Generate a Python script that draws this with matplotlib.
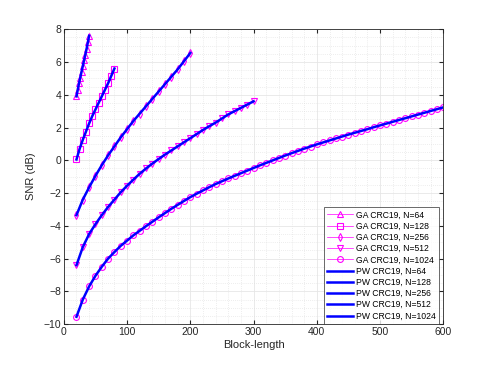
import numpy as np
import matplotlib
matplotlib.use("Agg")
import matplotlib.pyplot as plt
from matplotlib.ticker import MultipleLocator

# block lengths (K) and SNR values, one list per N
k_64 = [20, 22, 24, 26, 28, 30, 32, 34, 36, 38, 40]
snr_64 = [3.9, 4.3, 4.7, 5.05, 5.4, 5.75, 6.1, 6.45, 6.8, 7.2, 7.6]

k_128 = [20, 25, 30, 35, 40, 45, 50, 55, 60, 65, 70, 75, 80]
snr_128 = [0.05, 0.7, 1.25, 1.75, 2.25, 2.7, 3.1, 3.5, 3.9, 4.3, 4.7, 5.15, 5.6]

k_256 = [20, 30, 40, 50, 60, 70, 80, 90, 100, 110, 120, 130, 140, 150, 160,
         170, 180, 190, 200]
snr_256 = [-3.35, -2.4, -1.65, -0.95, -0.3, 0.3, 0.85, 1.4, 1.9, 2.4, 2.85,
           3.3, 3.75, 4.2, 4.65, 5.1, 5.55, 6.05, 6.55]

k_512 = [20, 30, 40, 50, 60, 70, 80, 90, 100, 110, 120, 130, 140, 150, 160,
         170, 180, 190, 200, 210, 220, 230, 240, 250, 260, 270, 280, 290, 300]
snr_512 = [-6.4, -5.3, -4.5, -3.9, -3.35, -2.85, -2.4, -1.95, -1.55, -1.18,
           -0.82, -0.5, -0.2, 0.08, 0.35, 0.6, 0.85, 1.1, 1.35, 1.6, 1.85,
           2.08, 2.3, 2.55, 2.8, 3.0, 3.2, 3.4, 3.6]

k_1024 = list(range(20, 601, 10))
snr_1024 = [-9.55, -8.5, -7.7, -7.05, -6.5, -6.0, -5.6, -5.22, -4.9, -4.58,
            -4.3, -4.02, -3.75, -3.48, -3.22, -2.96, -2.72, -2.48, -2.25,
            -2.04, -1.84, -1.64, -1.45, -1.28, -1.11, -0.95, -0.79, -0.63,
            -0.47, -0.31, -0.16, -0.01, 0.14, 0.29, 0.43, 0.57, 0.71, 0.84,
            0.97, 1.09, 1.21, 1.33, 1.45, 1.57, 1.68, 1.79, 1.9, 2.02, 2.13,
            2.24, 2.35, 2.46, 2.57, 2.68, 2.79, 2.9, 3.01, 3.12, 3.23]

code_lengths = [64, 128, 256, 512, 1024]
ks = [k_64, k_128, k_256, k_512, k_1024]
snrs = [snr_64, snr_128, snr_256, snr_512, snr_1024]
markers = ['^', 's', 'd', 'v', 'o']

plt.rcParams['font.family'] = ['Liberation Sans', 'DejaVu Sans']

fig = plt.figure(figsize=(4.91, 3.65), dpi=100)
ax = fig.add_axes([0.13, 0.112, 0.773, 0.808])

for n, k, s, m in zip(code_lengths, ks, snrs, markers):
    ax.plot(k, s, color='#ff00ff', lw=0.5, marker=m, ms=4.2, mfc='none',
            mec='#ff00ff', mew=0.8, label='GA CRC19, N=%d' % n)
for n, k, s in zip(code_lengths, ks, snrs):
    ax.plot(k, s, color='#0000ff', lw=1.8, label='PW CRC19, N=%d' % n)

ax.set_xlim(0, 600)
ax.set_ylim(-10, 8)
ax.xaxis.set_major_locator(MultipleLocator(100))
ax.yaxis.set_major_locator(MultipleLocator(2))
ax.xaxis.set_minor_locator(MultipleLocator(20))
ax.yaxis.set_minor_locator(MultipleLocator(0.5))
ax.grid(True, which='major', color='#e6e6e6', lw=0.6, ls='-')
ax.grid(True, which='minor', color='#dcdcdc', lw=0.5, ls=(0, (1, 2)))
ax.set_axisbelow(True)
ax.tick_params(which='both', direction='in', top=True, right=True,
               labelsize=7.5, colors='#262626', length=3, pad=2)
ax.tick_params(which='minor', length=0)
for sp in ax.spines.values():
    sp.set_color('#262626')
    sp.set_linewidth(0.6)

ax.set_xlabel('Block-length', fontsize=8, color='#262626', labelpad=2)
ax.set_ylabel('SNR (dB)', fontsize=8, color='#262626', labelpad=5)

leg = ax.legend(loc='lower right', bbox_to_anchor=(0.988, 0.002), fontsize=6.2,
                frameon=True, fancybox=False, edgecolor='#262626',
                handlelength=3.0, labelspacing=0.26, borderpad=0.35,
                handletextpad=0.35, borderaxespad=0.0)
leg.get_frame().set_linewidth(0.6)

fig.savefig('out.png', dpi=100)
